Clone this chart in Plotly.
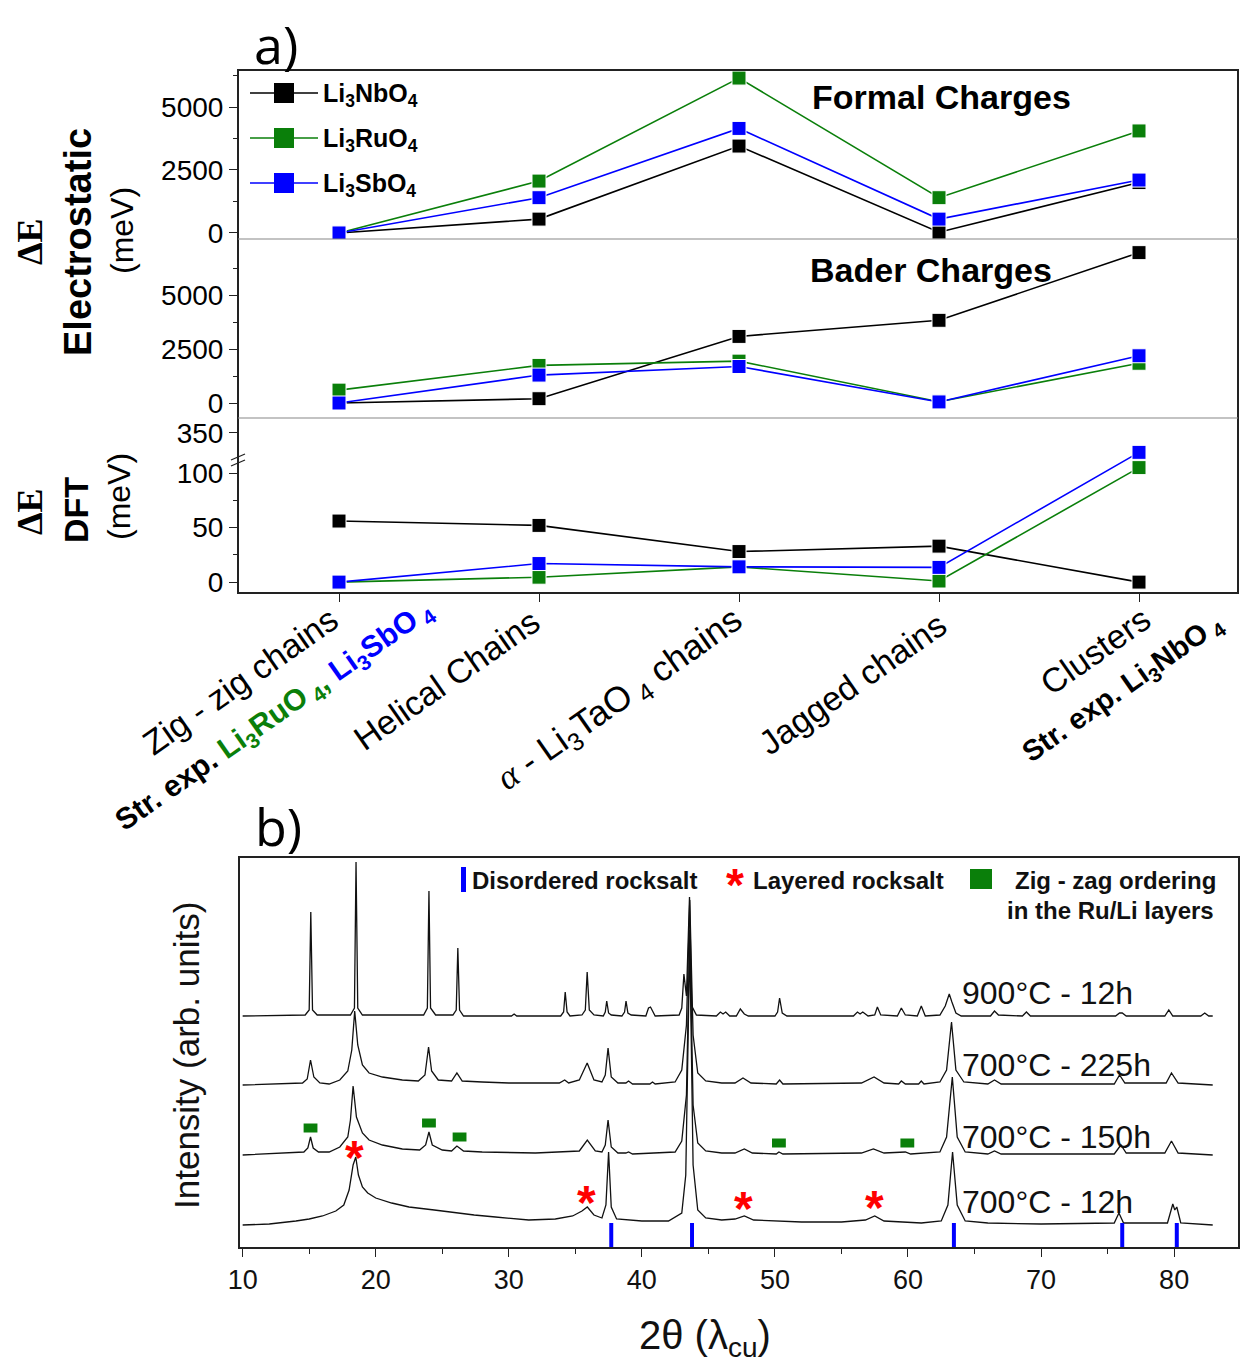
import plotly.graph_objects as go

W, H = 1240, 1369
def PX(p): return p / W
def PY(p): return 1 - p / H

# ---------------- data: panel a ----------------
categories = ["Zig - zig chains", "Helical Chains", "α - Li3TaO4 chains", "Jagged chains", "Clusters"]
cat_idx = [0, 1, 2, 3, 4]
series_names = ["Li3NbO4", "Li3RuO4", "Li3SbO4"]
series_colors = ["#000000", "#0A7F0A", "#0000FF"]

formal_nb = [0, 550, 3450, 30, 2000]
formal_ru = [0, 2060, 6150, 1400, 4050]
formal_sb = [0, 1400, 4150, 550, 2100]

bader_nb = [0, 200, 3100, 3850, 7000]
bader_ru = [600, 1750, 1950, 60, 1850]
bader_sb = [0, 1300, 1700, 50, 2200]

dft_nb = [56, 52, 28, 33, 0]
dft_ru = [0, 4.5, 14, 1, 105]
dft_sb = [0, 17, 14, 13.5, 332]

# broken DFT axis: lower segment up to BREAK_LO, upper segment from BREAK_HI
BREAK_LO, BREAK_HI = 112, 325
def brk(v):
    return v if v <= BREAK_LO else BREAK_LO + (v - BREAK_HI)

# ---------------- data: panel b (2theta, intensity arb. units) ----------------
xrd_900 = [(10.0,0),(14.7,1),(15.0,6),(15.12,104),(15.25,6),(15.6,1),
    (18.1,1),(18.4,8),(18.52,154),(18.65,8),(19.0,1),
    (23.6,1),(23.88,8),(24.0,125),(24.12,8),(24.5,1),
    (25.8,1),(26.05,6),(26.17,68),(26.3,6),(26.6,0),
    (30.2,0),(30.4,2),(30.6,0),
    (33.9,0),(34.12,4),(34.24,24),(34.38,4),(34.6,0),
    (35.5,1),(35.75,6),(35.89,44),(36.05,6),(36.4,1),
    (37.1,0),(37.25,4),(37.36,15),(37.5,3),(37.7,1),
    (38.5,0),(38.7,4),(38.81,15),(38.95,3),(39.2,1),
    (40.3,0),(40.5,8),(40.65,9),(40.8,5),(41.0,0),
    (42.8,1),(43.0,8),(43.16,42),(43.35,20),(43.58,119),(43.75,10),(44.1,1),
    (45.6,0),(45.9,4),(46.1,2),(46.3,4),(46.6,0),
    (47.1,0),(47.4,7),(47.7,2),(48.0,0),
    (50.0,0),(50.2,4),(50.35,18),(50.55,3),(50.9,0),
    (55.9,0),(56.2,4),(56.4,2),(56.6,4),(57.0,0),
    (57.5,1),(57.7,9),(57.95,1),
    (59.2,0),(59.5,8),(59.8,1),
    (60.7,0),(61.0,10),(61.3,0),
    (62.4,1),(62.8,10),(62.95,16),(63.1,22),(63.3,14),(63.6,3),(64.0,0),
    (66.2,0),(66.5,5),(66.8,1),
    (68.6,0),(68.9,4),(69.2,0),
    (75.6,0),(75.9,3),(76.1,3),(76.4,0),
    (79.3,0),(79.6,6),(79.9,0),
    (82.0,0),(82.3,3),(82.6,0),(82.9,0)]

xrd_225 = [(10.0,0),(14.5,2),(14.85,6),(15.1,25),(15.35,8),(15.8,2),(16.5,1),
    (17.3,5),(17.9,14),(18.2,35),(18.42,74),(18.65,40),(19.0,20),(19.5,12),(20.5,8),(22.0,5),
    (23.2,4),(23.7,10),(23.97,38),(24.2,14),(24.7,5),
    (25.7,4),(26.1,12),(26.5,4),(28.0,3),(30.0,2),(33.8,2),(34.2,5),(34.5,2),
    (35.3,5),(35.89,22),(36.4,5),
    (37.0,3),(37.25,10),(37.46,37),(37.7,8),(38.2,2),
    (38.8,2),(39.0,4),(39.3,1),(40.6,1),(40.8,3),(41.0,1),
    (42.5,3),(43.0,15),(43.35,60),(43.6,185),(43.85,50),(44.2,12),(44.8,4),(46.0,2),
    (47.0,2),(47.6,7),(48.2,2),(50.1,1),(50.35,5),(50.6,1),
    (56.5,2),(57.45,8),(58.2,2),(59.3,1),(59.5,4),(59.8,1),(60.8,1),(61.0,4),(61.2,1),
    (62.4,3),(62.9,15),(63.27,63),(63.6,15),(64.2,3),
    (66.0,1),(66.5,5),(67.0,1),(75.5,1),(75.9,10),(76.3,2),(79.4,2),(79.8,12),(80.3,2),(82.9,0)]

xrd_150 = [(10.0,0),(14.6,3),(14.9,7),(15.1,18),(15.3,7),(15.7,3),(16.5,3),
    (17.3,8),(17.9,18),(18.1,35),(18.3,69),(18.55,38),(19.0,22),(19.5,15),(20.5,10),(22.0,6),
    (23.3,5),(23.75,10),(24.0,23),(24.25,10),(25.0,5),
    (25.7,4),(26.1,9),(26.6,4),(28.0,3),(32.0,2),
    (35.3,4),(35.9,15),(36.5,4),(37.0,3),(37.25,10),(37.46,35),(37.7,8),(38.2,2),
    (38.8,2),(39.0,3),(39.3,1),
    (42.5,3),(43.0,14),(43.35,60),(43.6,225),(43.85,50),(44.2,12),(44.8,4),(46.0,2),
    (47.0,2),(47.7,6),(48.3,2),(50.1,1),(50.3,3),(50.6,1),
    (56.5,2),(57.4,6),(58.2,2),(59.8,3),(60.2,1),
    (62.4,3),(62.9,18),(63.33,78),(63.7,18),(64.3,3),
    (66.0,1),(66.5,4),(67.0,1),(75.5,1),(76.0,10),(76.4,2),(79.3,2),(79.8,14),(80.3,2),(82.9,0)]

xrd_12 = [(10.0,0),(12.0,1),(14.0,4),(15.0,6),(16.0,9),(17.0,14),(17.6,20),(18.0,35),(18.3,60),
    (18.5,68),(18.7,50),(19.0,38),(19.4,32),(20.0,27),(21.2,22),(22.5,18),(24.4,15),(26.0,12),
    (27.4,10),(29.0,8),(31.5,5),(33.5,6),(34.8,9),(35.5,14),(35.9,18),(36.4,10),(37.0,7),
    (37.3,20),(37.5,73),(37.7,18),(38.1,6),(40.0,4),(42.0,4),(43.0,12),(43.3,50),(43.6,285),
    (43.85,60),(44.2,15),(44.8,7),(46.0,5),(47.0,6),(47.7,9),(48.4,5),(52.0,3),(55.0,3),
    (56.8,5),(57.5,9),(58.2,4),(61.0,2),(62.5,4),(63.0,20),(63.35,73),(63.7,20),(64.3,4),
    (66.0,2),(70.0,1),(75.5,2),(75.85,12),(76.2,2),(79.5,2),(79.9,21),(80.05,15),(80.2,18),
    (80.5,2),(82.9,0)]

xrd_patterns = [xrd_900, xrd_225, xrd_150, xrd_12]
xrd_offsets = [231, 162, 92, 22]
xrd_labels = ["900°C - 12h", "700°C - 225h", "700°C - 150h", "700°C - 12h"]

dr_tt = [37.7, 43.77, 63.45, 76.1, 80.2]          # disordered rocksalt reflections
lr_tt = [18.42, 35.86, 47.65, 57.45]              # layered rocksalt (asterisks)
lr_int = [95, 50, 44, 45]
zz_tt = [15.1, 24.0, 26.3, 50.3, 59.95]           # zig-zag ordering (green rectangles)
zz_int = [119, 124, 110, 104, 104]

fig = go.Figure()

# ---------------- panel a traces ----------------
for name, col, f, b, d in zip(series_names, series_colors,
                              [formal_nb, formal_ru, formal_sb],
                              [bader_nb, bader_ru, bader_sb],
                              [dft_nb, dft_ru, dft_sb]):
    for yax, vals in (("y", f), ("y2", b), ("y3", [brk(v) for v in d])):
        fig.add_trace(go.Scatter(x=cat_idx, y=vals, xaxis="x", yaxis=yax, mode="lines+markers",
                                 line=dict(color=col, width=1.6),
                                 marker=dict(symbol="square", size=14, color=col,
                                             line=dict(color="white", width=1)),
                                 showlegend=False, name=name))

# ---------------- panel b traces ----------------
for pat, off in zip(xrd_patterns, xrd_offsets):
    fig.add_trace(go.Scatter(x=[p[0] for p in pat], y=[p[1] + off for p in pat],
                             xaxis="x2", yaxis="y4", mode="lines",
                             line=dict(color="#111111", width=1.3), showlegend=False))

shapes = []
annots = []
TF = "Liberation Sans, Arial, sans-serif"
SERIF = "Liberation Serif, Times New Roman, serif"

# disordered rocksalt bars
for t in dr_tt:
    shapes.append(dict(type="rect", xref="x2", yref="y4", x0=t - 0.15, x1=t + 0.15, y0=0, y1=24,
                       fillcolor="#0000FF", line=dict(width=0)))
# zig-zag rectangles
for t, v in zip(zz_tt, zz_int):
    shapes.append(dict(type="rect", xref="x2", yref="y4", x0=t - 0.52, x1=t + 0.52, y0=v - 4.5, y1=v + 4.5,
                       fillcolor="#0A7F0A", line=dict(width=0)))
# layered rocksalt asterisks
for t, v in zip(lr_tt, lr_int):
    annots.append(dict(xref="x2", yref="y4", x=t, y=v, text="<b>*</b>", showarrow=False,
                       font=dict(family=TF, size=48, color="#FF0000"), yshift=-5))

# pattern labels
for lab, py in zip(xrd_labels, [993, 1065, 1137, 1202]):
    annots.append(dict(xref="paper", yref="paper", x=PX(960), y=PY(py), text=lab, showarrow=False,
                       xanchor="left", yanchor="middle", font=dict(family=TF, size=32, color="#111")))

# panel b legend
shapes.append(dict(type="rect", xref="paper", yref="paper", x0=PX(461), x1=PX(466), y0=PY(892), y1=PY(867),
                   fillcolor="#0000FF", line=dict(width=0)))
shapes.append(dict(type="rect", xref="paper", yref="paper", x0=PX(970), x1=PX(992), y0=PY(889), y1=PY(869),
                   fillcolor="#0A7F0A", line=dict(width=0)))
annots.append(dict(xref="paper", yref="paper", x=PX(470), y=PY(880), text="<b>Disordered rocksalt</b>",
                   showarrow=False, xanchor="left", yanchor="middle", font=dict(family=TF, size=24, color="#111")))
annots.append(dict(xref="paper", yref="paper", x=PX(735), y=PY(880), text="<b>*</b>", yshift=-5,
                   showarrow=False, xanchor="center", yanchor="middle", font=dict(family=TF, size=46, color="#FF0000")))
annots.append(dict(xref="paper", yref="paper", x=PX(751), y=PY(880), text="<b>Layered rocksalt</b>",
                   showarrow=False, xanchor="left", yanchor="middle", font=dict(family=TF, size=24, color="#111")))
annots.append(dict(xref="paper", yref="paper", x=PX(1218), y=PY(880), text="<b>Zig - zag ordering</b>",
                   showarrow=False, xanchor="right", yanchor="middle", font=dict(family=TF, size=24, color="#111")))
annots.append(dict(xref="paper", yref="paper", x=PX(1216), y=PY(910), text="<b>in the Ru/Li layers</b>",
                   showarrow=False, xanchor="right", yanchor="middle", font=dict(family=TF, size=24, color="#111")))

# panel b axis titles
annots.append(dict(xref="paper", yref="paper", x=PX(186), y=PY(1056), text="Intensity (arb. units)", textangle=-90,
                   showarrow=False, xanchor="center", yanchor="middle", font=dict(family=TF, size=35, color="#111")))
annots.append(dict(xref="paper", yref="paper", x=PX(705), y=PY(1338), text="2θ (λ<sub>cu</sub>)",
                   showarrow=False, xanchor="center", yanchor="middle", font=dict(family=TF, size=40, color="#111")))

# panel letters
annots.append(dict(xref="paper", yref="paper", x=PX(276), y=PY(44), text="a)", showarrow=False,
                   xanchor="center", yanchor="middle", font=dict(family="Open Sans, sans-serif", size=52, color="#000")))
annots.append(dict(xref="paper", yref="paper", x=PX(278), y=PY(826), text="b)", showarrow=False,
                   xanchor="center", yanchor="middle", font=dict(family="Open Sans, sans-serif", size=52, color="#000")))

# panel a frame and dividers
shapes.append(dict(type="rect", xref="paper", yref="paper", x0=PX(238), x1=PX(1238), y0=PY(593), y1=PY(70),
                   line=dict(color="#222", width=2)))
for py in (239, 418):
    shapes.append(dict(type="line", xref="paper", yref="paper", x0=PX(238), x1=PX(1238), y0=PY(py), y1=PY(py),
                       line=dict(color="#888", width=1.2)))
# axis break marks
for dy in (-3, 3):
    shapes.append(dict(type="line", xref="paper", yref="paper", x0=PX(231), x1=PX(245),
                       y0=PY(463 + dy), y1=PY(457 + dy), line=dict(color="#222", width=1.3)))

# panel a text
annots.append(dict(xref="paper", yref="paper", x=PX(941), y=PY(97), text="<b>Formal Charges</b>", showarrow=False,
                   xanchor="center", yanchor="middle", font=dict(family=TF, size=34, color="#000")))
annots.append(dict(xref="paper", yref="paper", x=PX(931), y=PY(270), text="<b>Bader Charges</b>", showarrow=False,
                   xanchor="center", yanchor="middle", font=dict(family=TF, size=34, color="#000")))

# panel a legend
for i, (name, col) in enumerate(zip(series_names, series_colors)):
    py = 93 + 45 * i
    shapes.append(dict(type="line", xref="paper", yref="paper", x0=PX(250), x1=PX(318), y0=PY(py), y1=PY(py),
                       line=dict(color=col, width=1.6)))
    shapes.append(dict(type="rect", xref="paper", yref="paper", x0=PX(274), x1=PX(294), y0=PY(py + 10),
                       y1=PY(py - 10), fillcolor=col, line=dict(width=0)))
    label = "<b>Li<sub>3</sub>" + name[3:-2] + "O<sub>4</sub></b>"
    annots.append(dict(xref="paper", yref="paper", x=PX(321), y=PY(py + 2), text=label, showarrow=False,
                       xanchor="left", yanchor="middle", font=dict(family=TF, size=25, color="#000")))

# y-axis titles panel a
for txt, x, y, size, fam in [("<b>ΔE</b>", 30, 242, 36, SERIF),
                              ("<b>Electrostatic</b>", 78, 242, 38, TF),
                              ("(meV)", 122, 231, 32, TF),
                              ("<b>ΔE</b>", 30, 512, 36, SERIF),
                              ("<b>DFT</b>", 76, 510, 34, TF),
                              ("(meV)", 119, 497, 32, TF)]:
    annots.append(dict(xref="paper", yref="paper", x=PX(x), y=PY(y), text=txt, textangle=-90, showarrow=False,
                       xanchor="center", yanchor="middle", font=dict(family=fam, size=size, color="#000")))

# category labels (rotated)
GR, BL = "#0A7F0A", "#0000FF"
cat_labels = [
    ("Zig - zig chains", 240, 681, 34),
    ("<b>Str. exp. <span style='color:%s'>Li<sub>3</sub>RuO<sub> 4</sub>,</span> "
     "<span style='color:%s'>Li<sub>3</sub>SbO<sub> 4</sub></span></b>" % (GR, BL), 274, 716, 30),
    ("Helical Chains", 446, 680, 34),
    ("<span style='font-family:%s'><i>α</i></span> - Li<sub>3</sub>TaO<sub> 4</sub> chains" % SERIF, 620, 700, 35.5),
    ("Jagged chains", 852, 684, 34),
    ("Clusters", 1095, 651, 34),
    ("<b>Str. exp. Li<sub>3</sub>NbO<sub> 4</sub></b>", 1123, 689, 29),
]
for txt, x, y, size in cat_labels:
    annots.append(dict(xref="paper", yref="paper", x=PX(x), y=PY(y), text=txt, textangle=-35, showarrow=False,
                       xanchor="center", yanchor="middle", font=dict(family=TF, size=size, color="#000")))

yfont = dict(family=TF, size=28, color="#000")
common_y = dict(anchor="x", ticks="outside", ticklen=8, tickwidth=1.3, tickcolor="#222", showgrid=False,
                zeroline=False, showline=False, tickfont=yfont, automargin=False)

fig.update_layout(
    template="none",
    width=W, height=H, margin=dict(l=0, r=0, t=0, b=0, pad=0, autoexpand=False),
    paper_bgcolor="white", plot_bgcolor="rgba(0,0,0,0)", showlegend=False,
    xaxis=dict(domain=[PX(238), PX(1238)], anchor="y3", range=[-0.505, 4.495], tickvals=cat_idx,
               showticklabels=False, ticks="outside", ticklen=8, tickwidth=1.3, tickcolor="#222",
               showgrid=False, zeroline=False, showline=False, automargin=False),
    yaxis=dict(domain=[PY(239), PY(70)], range=[-240, 6470], tickvals=[0, 2500, 5000],
               minor=dict(tickvals=[1250, 3750, 6250], ticks="outside", ticklen=4, tickcolor="#222"), **common_y),
    yaxis2=dict(domain=[PY(418), PY(239)], range=[-698, 7635], tickvals=[0, 2500, 5000],
                minor=dict(tickvals=[1250, 3750, 6250], ticks="outside", ticklen=4, tickcolor="#222"), **common_y),
    yaxis3=dict(domain=[PY(593), PY(418)], range=[-10, 150.5], tickvals=[0, 50, 100, brk(350)],
                ticktext=["0", "50", "100", "350"],
                minor=dict(tickvals=[25, 75], ticks="outside", ticklen=4, tickcolor="#222"), **common_y),
    xaxis2=dict(domain=[PX(240), PX(1238)], anchor="y4", range=[9.8, 84.8], tick0=10, dtick=10,
                ticks="outside", ticklen=8, tickwidth=1.3, tickcolor="#222",
                minor=dict(dtick=5, tick0=5, ticks="outside", ticklen=5, tickcolor="#222"),
                showline=True, mirror=True, linecolor="#222", linewidth=1.5, showgrid=False, zeroline=False,
                automargin=False,
                tickfont=dict(family="Liberation Sans Narrow, Arial Narrow, Liberation Sans, sans-serif",
                              size=27, color="#111")),
    yaxis4=dict(domain=[PY(1247), PY(858)], anchor="x2", range=[0, 389], showticklabels=False, ticks="",
                showline=True, mirror=True, linecolor="#222", linewidth=1.5, showgrid=False, zeroline=False,
                automargin=False),
    shapes=shapes, annotations=annots,
)

fig.write_html("out.html")
